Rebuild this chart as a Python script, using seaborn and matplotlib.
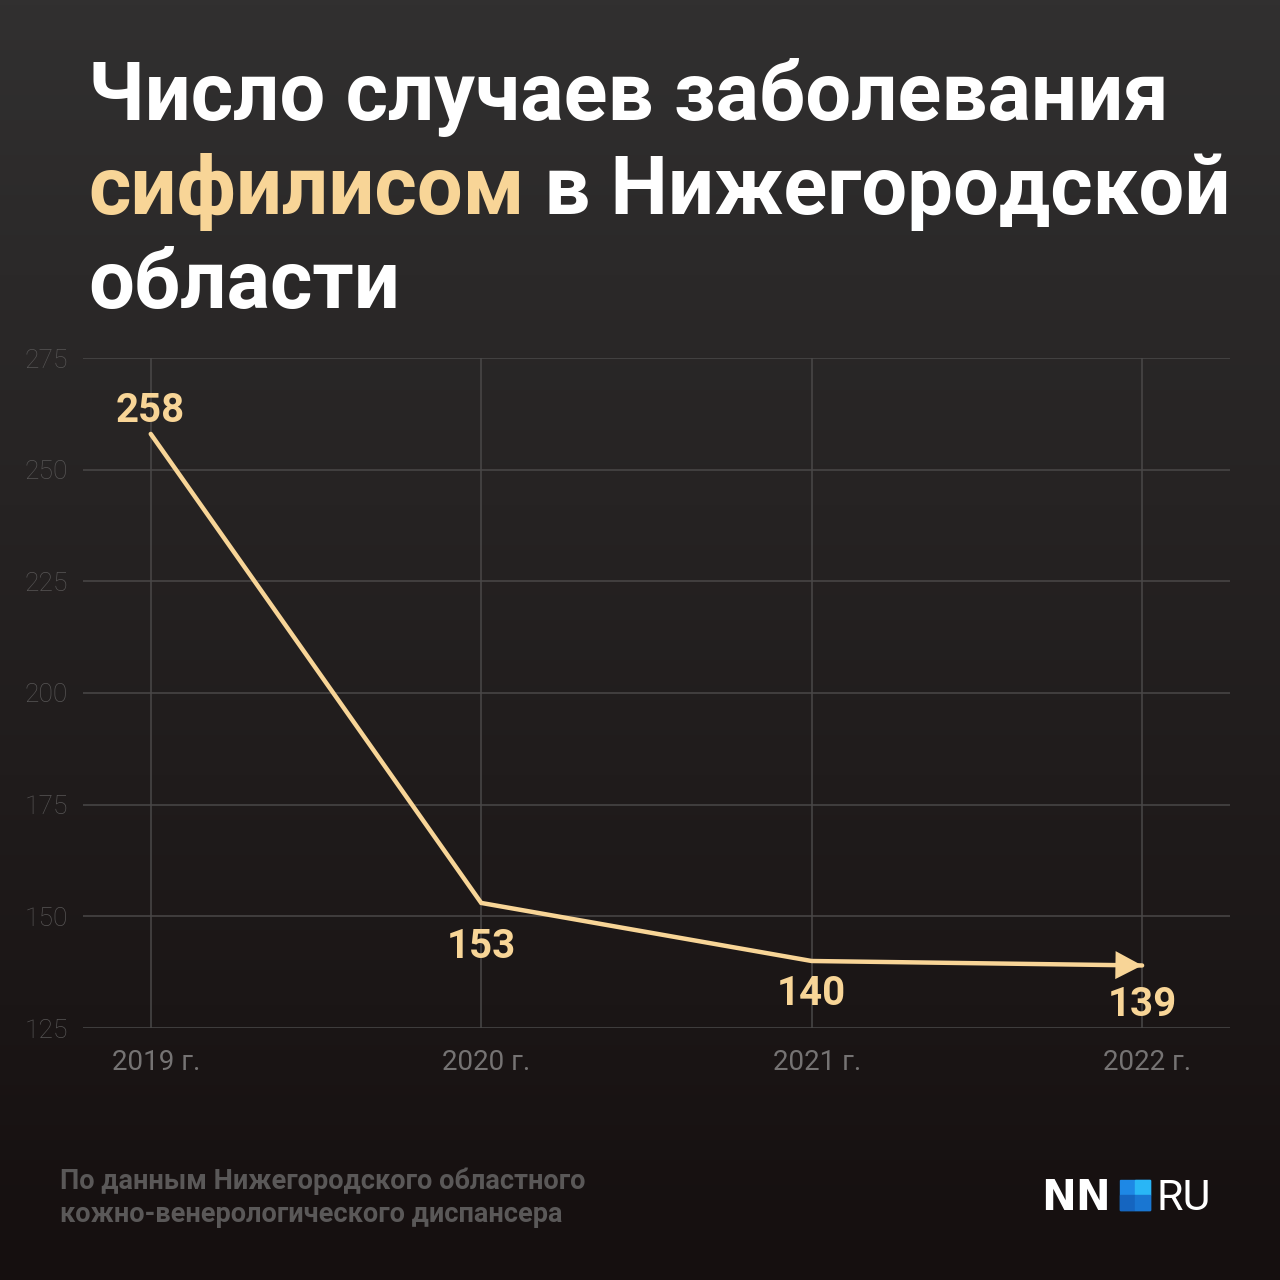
import numpy as np
import pandas as pd
import matplotlib
matplotlib.use("Agg")
import matplotlib.pyplot as plt
import seaborn as sns
from matplotlib.patches import Rectangle
import matplotlib.transforms as mtransforms

years = ["2019 г.", "2020 г.", "2021 г.", "2022 г."]
cases = [258, 153, 140, 139]
yticks = [125, 150, 175, 200, 225, 250, 275]
title_l1 = "Число случаев заболевания"
title_l2a = "сифилисом"
title_l2b = " в Нижегородской"
title_l3 = "области"
source_lines = ["По данным Нижегородского областного", "кожно-венерологического диспансера"]

sns.set_theme(style="dark")
plt.rcParams['font.family'] = ['Roboto', 'DejaVu Sans']

PEACH = "#f8d597"
df = pd.DataFrame({"x": np.arange(len(years)), "year": years, "cases": cases})

fig = plt.figure(figsize=(12.8, 12.8), dpi=100)

# background gradient
bg = fig.add_axes([0, 0, 1, 1], zorder=-10)
grad = np.linspace(0, 1, 256).reshape(-1, 1)
top = np.array([0x31, 0x30, 0x30]) / 255
bot = np.array([0x15, 0x0f, 0x0f]) / 255
img = top[None, None, :] * (1 - grad[..., None]) + bot[None, None, :] * grad[..., None]
bg.imshow(img, aspect="auto", extent=[0, 1, 0, 1], origin="upper")
bg.set_axis_off()

ax = fig.add_axes([83/1280, 1 - 1028/1280, (1230-83)/1280, (1028-358)/1280])
ax.set_facecolor("none")
sns.lineplot(data=df, x="x", y="cases", ax=ax, color=PEACH, linewidth=3.2,
             solid_capstyle="round", solid_joinstyle="miter", zorder=5)

# arrow head at the end
ax.annotate("", xy=(df.x.iloc[-1], df.cases.iloc[-1]),
            xytext=(df.x.iloc[-1] - 0.06, df.cases.iloc[-1] + 0.06*(df.cases.iloc[-2]-df.cases.iloc[-1])),
            arrowprops=dict(arrowstyle="-|>,head_length=0.8,head_width=0.42", color=PEACH,
                            lw=0, mutation_scale=24, shrinkA=0, shrinkB=0), zorder=6)

ax.set_xlim(-0.205, 3.266)
ax.set_ylim(125, 275)
ax.set_yticks(yticks)
ax.set_xticks(df.x)
ax.set_xticklabels(years)
ax.grid(True, color="#4a4848", linewidth=1.1)
ax.set_axisbelow(True)
for s in ax.spines.values():
    s.set_visible(False)
ax.tick_params(axis="y", colors="#575555", labelsize=19, pad=11, length=0)
ax.tick_params(axis="x", colors="#757373", labelsize=20, pad=15, length=0)
for lab in ax.get_yticklabels():
    lab.set_fontweight("light")
shift = mtransforms.ScaledTranslation(5/100, 0, fig.dpi_scale_trans)
for lab in ax.get_xticklabels():
    lab.set_transform(lab.get_transform() + shift)
ax.set_xlabel("")
ax.set_ylabel("")

# value labels
offsets = [(0, 3, "bottom"), (0, -18, "top"), (0, -10, "top"), (0, -15, "top")]
for (xi, v), (dx, dy, va) in zip(zip(df.x, df.cases), offsets):
    ax.annotate(str(v), (xi, v), xytext=(dx, dy), textcoords="offset points",
                ha="center", va=va, color=PEACH, fontsize=29, fontweight="bold")

# title
tkw = dict(fontsize=58.5, fontweight="bold", va="baseline", ha="left")
fig.text(88/1280, 1 - 120/1280, title_l1, color="white", **tkw)
t2a = fig.text(88/1280, 1 - 214/1280, title_l2a, color=PEACH, **tkw)
fig.canvas.draw()
r = fig.canvas.get_renderer()
ext = t2a.get_window_extent(r)
fig.text(ext.x1 / 1280, 1 - 214/1280, title_l2b, color="white", **tkw)
fig.text(88/1280, 1 - 308/1280, title_l3, color="white", **tkw)

# source
for i, line in enumerate(source_lines):
    fig.text(60/1280, 1 - (1189 + i*33)/1280, line, color="#5a5858", fontsize=19.5,
             fontweight="bold", va="baseline", ha="left")

# logo
fig.text(1041/1280, 1 - 1210/1280, "NN", color="white", fontsize=30, fontweight="bold",
         family="DejaVu Sans", va="baseline", ha="left")
sq = 30/1280
x0, y0 = 1120/1280, 1 - 1210/1280
fig.patches.append(Rectangle((x0, y0), sq, sq, transform=fig.transFigure, color="#1e88e5"))
fig.patches.append(Rectangle((x0 + sq/2, y0 + sq/2), sq/2, sq/2, transform=fig.transFigure, color="#29b6f6"))
fig.patches.append(Rectangle((x0, y0), sq/2, sq/2, transform=fig.transFigure, color="#1565c0"))
fig.patches.append(Rectangle((x0 + sq/2, y0), sq/2, sq/2, transform=fig.transFigure, color="#1976d2"))
fig.text(1156/1280, 1 - 1210/1280, "RU", color="white", fontsize=31, fontweight="normal",
         va="baseline", ha="left")

fig.savefig("out.png", dpi=100)
